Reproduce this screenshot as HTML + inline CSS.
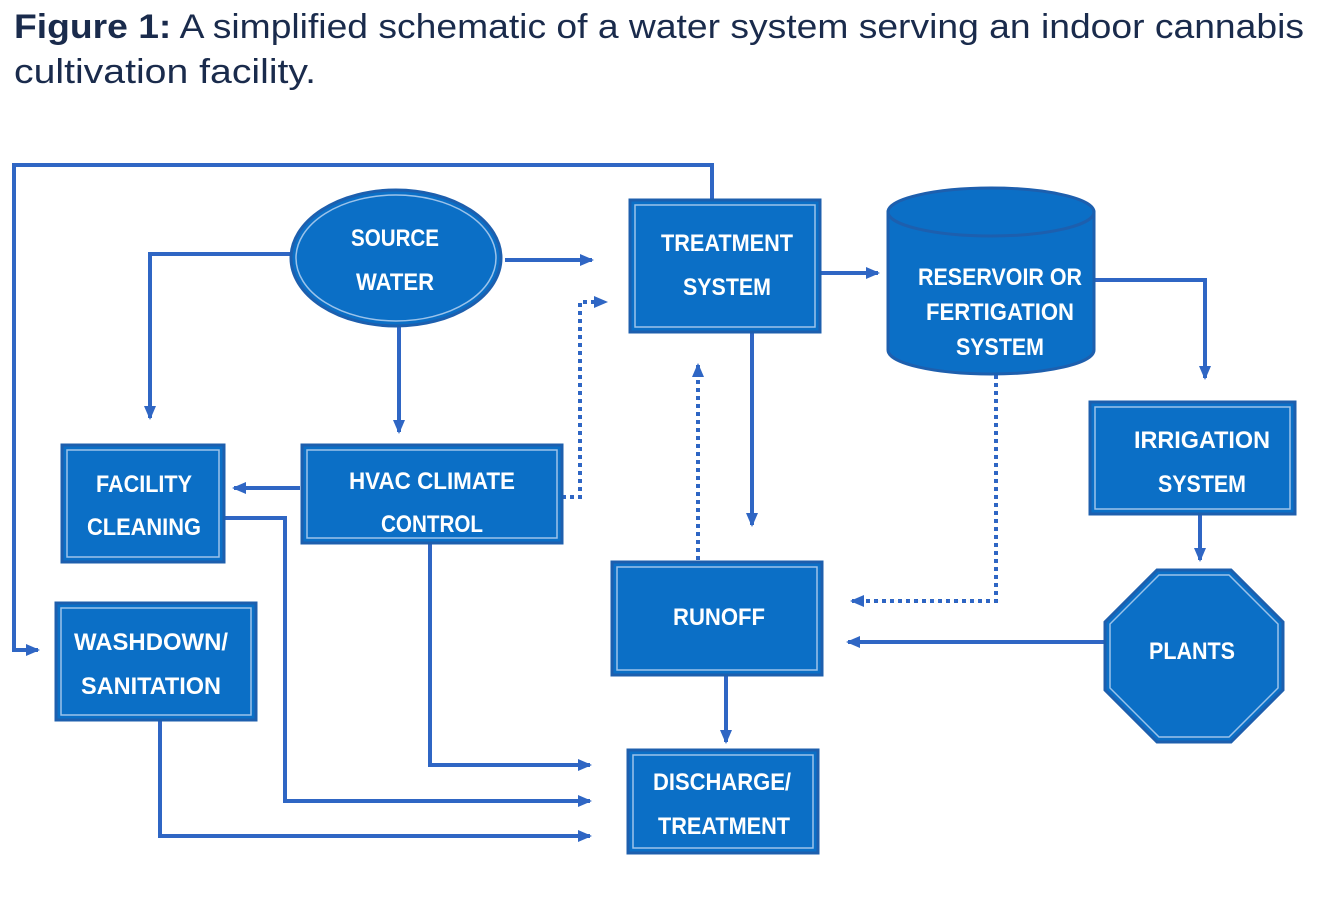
<!DOCTYPE html>
<html><head><meta charset="utf-8"><style>
body{margin:0;background:#fff;}
svg{display:block;}
.t{font-family:"Liberation Sans",sans-serif;fill:#1a2b4c;font-size:34px;}
.n{font-family:"Liberation Sans",sans-serif;font-weight:bold;fill:#fff;font-size:24px;text-anchor:middle;}
</style></head><body>
<svg width="1327" height="919" viewBox="0 0 1327 919" xmlns="http://www.w3.org/2000/svg">
<defs>
<marker id="a" markerWidth="14" markerHeight="12" refX="12" refY="6" orient="auto" markerUnits="userSpaceOnUse"><path d="M0,0 L14,6 L0,12 z" fill="#2f66c4"/></marker>
</defs>
<text class="t" x="14" y="38" textLength="1290" lengthAdjust="spacingAndGlyphs"><tspan font-weight="bold">Figure 1:</tspan> A simplified schematic of a water system serving an indoor cannabis</text>
<text class="t" x="14" y="83" textLength="302" lengthAdjust="spacingAndGlyphs">cultivation facility.</text>

<g fill="none" stroke="#2f66c4" stroke-width="4">
<polyline points="712,200 712,165 14,165 14,650 38,650" marker-end="url(#a)"/>
<polyline points="505,260 592,260" marker-end="url(#a)"/>
<polyline points="290,254 150,254 150,418" marker-end="url(#a)"/>
<polyline points="399,326 399,432" marker-end="url(#a)"/>
<polyline points="300,488 234,488" marker-end="url(#a)"/>
<polyline points="562,497 580,497 580,302 606,302" stroke-dasharray="4,4" marker-end="url(#a)"/>
<polyline points="820,273 878,273" marker-end="url(#a)"/>
<polyline points="752,332 752,525" marker-end="url(#a)"/>
<polyline points="698,560 698,365" stroke-dasharray="4,4" marker-end="url(#a)"/>
<polyline points="1094,280 1205,280 1205,378" marker-end="url(#a)"/>
<polyline points="996,375 996,601 852,601" stroke-dasharray="4,4" marker-end="url(#a)"/>
<polyline points="1200,514 1200,560" marker-end="url(#a)"/>
<polyline points="1105,642 848,642" marker-end="url(#a)"/>
<polyline points="726,675 726,742" marker-end="url(#a)"/>
<polyline points="430,543 430,765 590,765" marker-end="url(#a)"/>
<polyline points="224,518 285,518 285,801 590,801" marker-end="url(#a)"/>
<polyline points="160,720 160,836 590,836" marker-end="url(#a)"/>
</g>

<g fill="#0b6fc6" stroke="#1d5fae" stroke-width="3">
<ellipse cx="396" cy="258" rx="105" ry="68"/>
<rect x="630" y="200" width="190" height="132"/>
<path d="M888,212 L888,350 A103,24 0 0 0 1094,350 L1094,212 Z"/>
<ellipse cx="991" cy="212" rx="103" ry="24"/>
<rect x="1090" y="402" width="205" height="112"/>
<polygon points="1157,570 1231,570 1283,622 1283,690 1231,742 1157,742 1105,690 1105,622"/>
<rect x="612" y="562" width="210" height="113"/>
<rect x="628" y="750" width="190" height="103"/>
<rect x="302" y="445" width="260" height="98"/>
<rect x="62" y="445" width="162" height="117"/>
<rect x="56" y="603" width="200" height="117"/>
</g>
<g fill="none" stroke="#9cc3ea" stroke-width="1.5">
<ellipse cx="396" cy="258" rx="100" ry="63"/>
<rect x="635" y="205" width="180" height="122"/>
<rect x="1095" y="407" width="195" height="102"/>
<polygon points="1159,575 1229,575 1278,624 1278,688 1229,737 1159,737 1110,688 1110,624"/>
<rect x="617" y="567" width="200" height="103"/>
<rect x="633" y="755" width="180" height="93"/>
<rect x="307" y="450" width="250" height="88"/>
<rect x="67" y="450" width="152" height="107"/>
<rect x="61" y="608" width="190" height="107"/>
</g>

<g class="n">
<text class="n" x="395" y="246" textLength="88" lengthAdjust="spacingAndGlyphs">SOURCE</text>
<text class="n" x="395" y="290" textLength="78" lengthAdjust="spacingAndGlyphs">WATER</text>
<text class="n" x="727" y="251" textLength="132" lengthAdjust="spacingAndGlyphs">TREATMENT</text>
<text class="n" x="727" y="295" textLength="88" lengthAdjust="spacingAndGlyphs">SYSTEM</text>
<text class="n" x="1000" y="285" textLength="164" lengthAdjust="spacingAndGlyphs">RESERVOIR OR</text>
<text class="n" x="1000" y="320" textLength="148" lengthAdjust="spacingAndGlyphs">FERTIGATION</text>
<text class="n" x="1000" y="355" textLength="88" lengthAdjust="spacingAndGlyphs">SYSTEM</text>
<text class="n" x="1202" y="448" textLength="136" lengthAdjust="spacingAndGlyphs">IRRIGATION</text>
<text class="n" x="1202" y="492" textLength="88" lengthAdjust="spacingAndGlyphs">SYSTEM</text>
<text class="n" x="1192" y="659" textLength="86" lengthAdjust="spacingAndGlyphs">PLANTS</text>
<text class="n" x="719" y="625" textLength="92" lengthAdjust="spacingAndGlyphs">RUNOFF</text>
<text class="n" x="722" y="790" textLength="138" lengthAdjust="spacingAndGlyphs">DISCHARGE/</text>
<text class="n" x="724" y="834" textLength="132" lengthAdjust="spacingAndGlyphs">TREATMENT</text>
<text class="n" x="432" y="489" textLength="166" lengthAdjust="spacingAndGlyphs">HVAC CLIMATE</text>
<text class="n" x="432" y="532" textLength="102" lengthAdjust="spacingAndGlyphs">CONTROL</text>
<text class="n" x="144" y="492" textLength="96" lengthAdjust="spacingAndGlyphs">FACILITY</text>
<text class="n" x="144" y="535" textLength="114" lengthAdjust="spacingAndGlyphs">CLEANING</text>
<text class="n" x="151" y="650" textLength="154" lengthAdjust="spacingAndGlyphs">WASHDOWN/</text>
<text class="n" x="151" y="694" textLength="140" lengthAdjust="spacingAndGlyphs">SANITATION</text>
</g>
</svg>
</body></html>
